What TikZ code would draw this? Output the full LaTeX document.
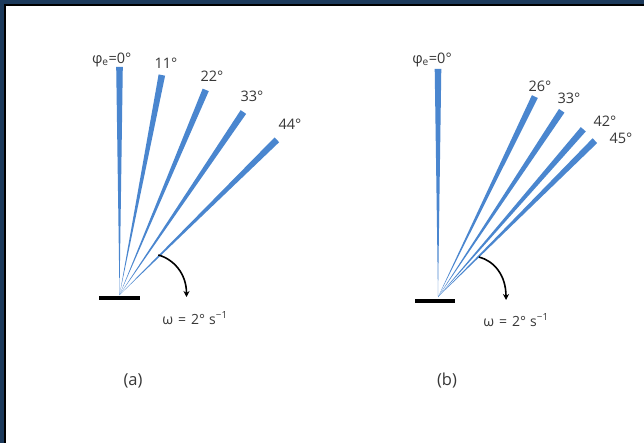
\documentclass[tikz,border=0pt]{standalone}
\usepackage{fontspec}
\setmainfont{Open Sans}
\usetikzlibrary{calc,arrows.meta}
\definecolor{navy}{RGB}{28,58,92}
\definecolor{raydark}{RGB}{74,134,207}
\definecolor{txt}{RGB}{55,55,55}
\tikzset{
  anglab/.style={text=txt,font=\fontsize{14.5}{17}\selectfont,inner sep=0pt},
  omlab/.style={text=txt,font=\fontsize{14}{16}\selectfont,inner sep=0pt},
  panlab/.style={text=txt,font=\fontsize{16.5}{19}\selectfont,inner sep=0pt},
  basebar/.style={line width=4pt,black},
  rotarrow/.style={line width=1.6pt,black,-{Stealth[length=6pt,width=6pt]}},
  raystyle/.style={fill=raydark}
}
\newcommand{\myray}[3]{% pivot, angle, length
  \fill[raystyle]
   (#1) -- ($(#1)+({#3*sin(#2)-3.3*cos(#2)},{-#3*cos(#2)-3.3*sin(#2)})$)
        -- ($(#1)+({#3*sin(#2)+3.3*cos(#2)},{-#3*cos(#2)+3.3*sin(#2)})$) -- cycle;}
\begin{document}
\begin{tikzpicture}[x=1pt,y=-1pt]
\useasboundingbox (0,0) rectangle (644,443);
\fill[white] (0,0) rectangle (644,443);
\fill[navy] (0,0) rectangle (644,4.5);
\fill[navy] (0,0) rectangle (3.5,443);
\fill[black] (3.5,4.5) rectangle (644,6.5);
\fill[black] (3.5,4.5) rectangle (6,443);

% panel (a)
\coordinate (pa) at (119.5,295);
\foreach \a/\L in {0/228, 10.9/224, 22.8/222.5, 34.1/221, 45.4/221}
  {\myray{pa}{\a}{\L}}
\draw[basebar] (99,298) -- (140,298);
\coordinate (arcA1) at (158.3,255);
\coordinate (arcA2) at (186.5,297);
\draw[rotarrow] (arcA1) .. controls (173,259) and (186.5,273) .. (arcA2);
\node[anglab] (a0) at (111.7,60) {φ\textsubscript{e}=0°};
\node[anglab] (a1) at (166,63) {11°};
\node[anglab] (a2) at (212,76) {22°};
\node[anglab] (a3) at (252,96) {33°};
\node[anglab] (a4) at (290,124) {44°};
\node[omlab] (wa) at (195,318) {ω\hspace{5pt}=\hspace{5pt}2°\hspace{4pt}s\textsuperscript{−1}};
\node[panlab] (la) at (133,381) {(a)};

% panel (b)
\coordinate (pb) at (438,297);
\foreach \a/\L in {0/228, 25.8/222.6, 33.6/223.6, 40.9/221.9, 45.1/221.5}
  {\myray{pb}{\a}{\L}}
\draw[basebar] (415,301) -- (455,301);
\coordinate (arcB1) at (479,257);
\coordinate (arcB2) at (506,300);
\draw[rotarrow] (arcB1) .. controls (494,261) and (506,275) .. (arcB2);
\node[anglab] (b0) at (432,60) {φ\textsubscript{e}=0°};
\node[anglab] (b1) at (540,86) {26°};
\node[anglab] (b2) at (569,98) {33°};
\node[anglab] (b3) at (605,121) {42°};
\node[anglab] (b4) at (621,138) {45°};
\node[omlab] (wb) at (516,320) {ω\hspace{5pt}=\hspace{5pt}2°\hspace{4pt}s\textsuperscript{−1}};
\node[panlab] (lb) at (447,381) {(b)};
\end{tikzpicture}
\end{document}
